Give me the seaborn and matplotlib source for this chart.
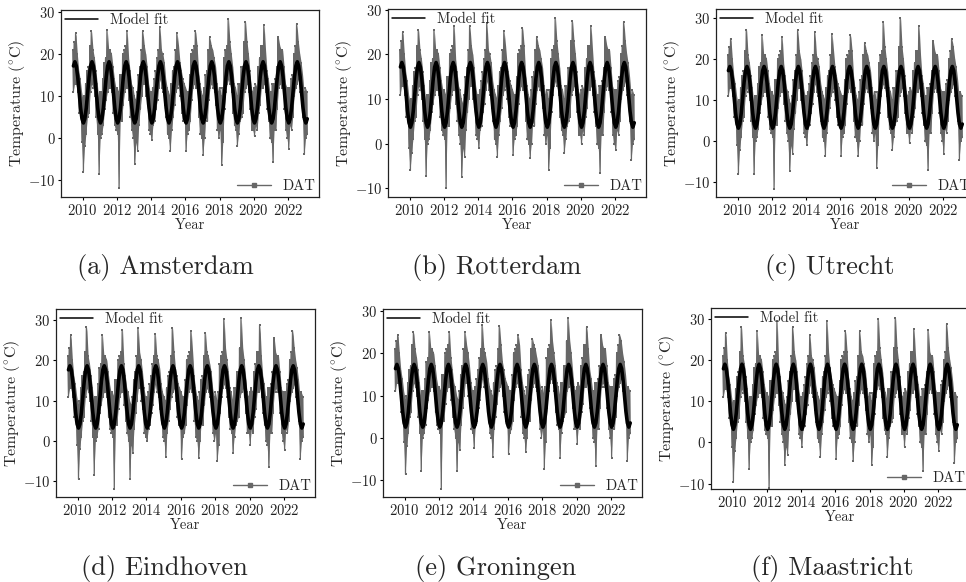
import numpy as np
import pandas as pd
import matplotlib
matplotlib.use("Agg")
import matplotlib.pyplot as plt
from matplotlib.lines import Line2D
import seaborn as sns

# --- DATA (deg C) ---
cities = ["Amsterdam", "Rotterdam", "Utrecht", "Eindhoven", "Groningen", "Maastricht"]
captions = ["(a) Amsterdam", "(b) Rotterdam", "(c) Utrecht",
            "(d) Eindhoven", "(e) Groningen", "(f) Maastricht"]

# monthly axis of the daily average temperature (DAT) record
months = pd.period_range("2009-06", "2023-02", freq="M")

# typical upper / lower edge of the DAT band per month (shared by the cities)
band_hi = [
    21, 23, 22, 20, 16, 14, 11,                      # 2009 Jun-Dec
    9, 10, 13, 16, 17, 22, 23, 21, 19, 16, 13, 9,     # 2010
    11, 11, 14, 18, 19, 21, 21, 21, 20, 17, 14, 12,   # 2011
    12, 11, 15, 15, 20, 21, 22, 23, 19, 16, 13, 12,   # 2012
    10, 9, 11, 15, 17, 21, 23, 22, 20, 17, 13, 11,    # 2013
    11, 12, 14, 16, 19, 21, 23, 21, 20, 18, 14, 12,   # 2014
    11, 10, 13, 16, 17, 21, 23, 22, 18, 16, 14, 13,   # 2015
    12, 11, 11, 15, 20, 21, 22, 22, 22, 16, 13, 11,   # 2016
    10, 12, 15, 16, 21, 23, 22, 21, 19, 17, 13, 11,   # 2017
    12, 10, 12, 19, 21, 22, 24, 23, 20, 17, 13, 12,   # 2018
    10, 13, 13, 17, 17, 23, 23, 23, 20, 16, 12, 11,   # 2019
    12, 13, 12, 17, 19, 22, 22, 24, 21, 16, 14, 11,   # 2020
    11, 13, 13, 14, 17, 22, 22, 21, 21, 17, 13, 12,   # 2021
    12, 12, 14, 15, 20, 22, 24, 23, 20, 18, 15, 11,   # 2022
    12, 11,                                          # 2023 Jan-Feb
]
band_lo = [
    11, 13, 13, 11, 6, 6, -1,
    -4, -2, 1, 5, 6, 11, 13, 12, 10, 5, 1, -4,
    0, 1, 3, 7, 9, 11, 12, 12, 11, 6, 3, 2,
    1, -6, 4, 4, 8, 11, 12, 12, 9, 5, 2, 0,
    -2, -1, -3, 3, 7, 10, 13, 13, 10, 8, 2, 1,
    2, 3, 4, 7, 9, 12, 14, 12, 11, 8, 5, 1,
    0, 0, 2, 5, 8, 11, 12, 13, 10, 6, 4, 5,
    1, 1, 2, 4, 9, 12, 13, 12, 12, 5, 1, 0,
    -2, 0, 5, 4, 9, 12, 13, 12, 11, 8, 2, 0,
    2, -2, -1, 7, 11, 13, 14, 13, 11, 6, 3, 2,
    -1, 1, 4, 5, 6, 11, 12, 13, 11, 7, 2, 2,
    2, 3, 2, 6, 8, 12, 12, 13, 11, 7, 4, 0,
    -1, -1, 2, 2, 7, 12, 13, 12, 12, 7, 2, 0,
    1, 3, 2, 5, 10, 12, 13, 14, 11, 9, 5, -1,
    0, 1,
]

# month of the summer heat peak and of the winter cold dip
peak_months = ["2009-08", "2010-07", "2011-06", "2012-08", "2013-07", "2014-07", "2015-07",
               "2016-08", "2017-06", "2018-07", "2019-07", "2020-08", "2021-06", "2022-07"]
dip_months = ["2010-01", "2010-12", "2012-02", "2013-01", "2014-01", "2015-02", "2016-01",
              "2017-01", "2018-02", "2019-01", "2020-01", "2021-02", "2022-01", "2022-12"]

summer_peak = {
    "Amsterdam":  [25.0, 25.5, 25.7, 25.5, 25.5, 26.5, 25.0, 25.5, 24.0, 28.5, 27.8, 27.0, 24.0, 27.3],
    "Rotterdam":  [25.0, 25.5, 25.5, 26.5, 26.5, 27.0, 25.2, 26.0, 24.0, 28.2, 27.5, 26.3, 24.0, 27.3],
    "Utrecht":    [25.0, 27.2, 25.8, 25.3, 27.0, 26.5, 26.0, 25.8, 24.0, 29.0, 30.0, 28.0, 24.3, 25.0],
    "Eindhoven":  [26.2, 28.2, 26.2, 27.5, 28.0, 26.5, 28.0, 27.3, 26.7, 30.2, 30.3, 28.7, 25.5, 27.3],
    "Groningen":  [24.5, 25.0, 25.0, 25.0, 25.0, 26.8, 26.5, 24.5, 23.5, 28.0, 28.4, 26.3, 24.5, 24.5],
    "Maastricht": [26.7, 28.0, 27.0, 29.5, 28.0, 26.2, 29.5, 27.0, 27.0, 30.0, 30.3, 27.5, 27.3, 28.8],
}
winter_dip = {
    "Amsterdam":  [-8.0, -8.5, -12.0, -6.3, -0.5, -3.0, -3.0, -4.0, -6.5, -2.0, 0.5, -5.8, -2.5, -3.8],
    "Rotterdam":  [-6.0, -7.3, -10.0, -7.5, -1.0, -3.0, -2.5, -3.2, -5.8, -2.0, 0.0, -6.5, -1.5, -3.7],
    "Utrecht":    [-8.0, -8.0, -11.5, -7.3, -1.0, -3.5, -3.5, -3.5, -6.5, -2.0, -0.5, -7.0, -3.0, -4.5],
    "Eindhoven":  [-9.5, -8.3, -12.0, -9.5, 0.0, -4.0, -4.5, -4.3, -5.0, -3.0, -1.0, -6.5, -2.3, -4.5],
    "Groningen":  [-8.7, -8.0, -12.3, -8.0, -2.5, -4.5, -4.0, -3.5, -7.5, -4.8, -1.5, -6.7, -4.8, -5.5],
    "Maastricht": [-9.5, -6.5, -11.0, -5.5, -1.0, -3.5, -4.0, -4.5, -5.5, -3.5, -1.0, -7.0, -2.0, -5.0],
}

# seasonal model fit, Jan..Dec
model_fit = {
    "Amsterdam":  [3.6, 4.6, 7.2, 10.9, 14.6, 17.2, 18.2, 17.2, 14.6, 10.9, 7.2, 4.6],
    "Rotterdam":  [3.7, 4.7, 7.3, 10.9, 14.6, 17.2, 18.2, 17.2, 14.6, 10.9, 7.3, 4.7],
    "Utrecht":    [3.2, 4.2, 6.9, 10.7, 14.5, 17.2, 18.2, 17.2, 14.5, 10.7, 6.9, 4.2],
    "Eindhoven":  [3.2, 4.2, 7.0, 10.9, 14.8, 17.6, 18.6, 17.6, 14.8, 10.9, 7.0, 4.2],
    "Groningen":  [2.5, 3.5, 6.2, 10.0, 13.7, 16.4, 17.4, 16.4, 13.7, 10.0, 6.2, 3.5],
    "Maastricht": [3.2, 4.3, 7.1, 11.1, 15.1, 17.9, 19.0, 17.9, 15.1, 11.1, 7.1, 4.3],
}

year_ticks = [2010, 2012, 2014, 2016, 2018, 2020, 2022]
temp_ticks = [-10, 0, 10, 20, 30]

# --- LAYOUT (pixels in a 966x582 canvas) ---
W, H = 966, 582
axes_px = [(61, 10, 319, 197), (388, 9, 646, 197), (716, 9, 974, 197),
           (56, 309, 315, 497), (383, 309, 642, 497), (711, 308, 969, 489)]
ylims = [(-14.06, 30.55), (-11.95, 30.2), (-13.55, 32.19),
         (-13.86, 32.65), (-14.1, 30.57), (-11.3, 32.66)]
caption_px = [(165, 268), (497, 268), (830, 268), (164, 568), (496, 568), (832, 568)]

DAT_GRAY = "#676767"


def city_frames(city):
    hi = pd.Series(band_hi, index=months, dtype=float)
    lo = pd.Series(band_lo, index=months, dtype=float)
    hi[pd.PeriodIndex(peak_months, freq="M")] = summer_peak[city]
    lo[pd.PeriodIndex(dip_months, freq="M")] = winter_dip[city]
    start = months.year + (months.month - 1) / 12
    band = pd.DataFrame({"Year": start + 0.25 / 12, "hi": hi.values, "lo": lo.values})
    dat = pd.DataFrame({
        "Year": np.concatenate([start, start + 0.5 / 12]),
        "Temperature": np.concatenate([hi.values, lo.values]),
    }).sort_values("Year")
    fit = pd.DataFrame({
        "Year": start + 0.5 / 12,
        "Temperature": [model_fit[city][m - 1] for m in months.month],
    })
    return band, dat, fit


def main():
    sns.set_style("ticks")
    plt.rcParams["font.family"] = ["cmr10", "DejaVu Serif"]
    plt.rcParams["mathtext.fontset"] = "cm"
    plt.rcParams["axes.formatter.use_mathtext"] = True
    plt.rcParams["axes.unicode_minus"] = True

    fig = plt.figure(figsize=(W / 100, H / 100), dpi=100)

    for i, city in enumerate(cities):
        l, t, r, b = axes_px[i]
        w_px, h_px = r - l, b - t
        ax = fig.add_axes([l / W, 1 - b / H, w_px / W, h_px / H])
        band, dat, fit = city_frames(city)

        # DAT: dense daily record -> gray band with its zig-zag trace on top
        ax.fill_between(band["Year"], band["lo"], band["hi"], color=DAT_GRAY, linewidth=0)
        sns.lineplot(data=dat, x="Year", y="Temperature", ax=ax, estimator=None,
                     color=DAT_GRAY, linewidth=0.9, marker="s", markersize=2.0,
                     markeredgewidth=0)
        sns.lineplot(data=fit, x="Year", y="Temperature", ax=ax, estimator=None,
                     color="black", linewidth=2.6)

        ax.set_ylim(*ylims[i])
        ax.set_xticks(year_ticks)
        ax.set_yticks(temp_ticks)
        ax.set_xlabel("Year", fontsize=10.5, labelpad=0.5)
        ax.set_ylabel(r"Temperature ($^{\circ}$C)", fontsize=11.5)
        ax.yaxis.set_label_coords(-34 / w_px, 0.5)
        ax.tick_params(axis="both", labelsize=10.5, length=2.5, width=0.8, pad=1.5,
                       colors="black", labelcolor="#222222")
        for sp in ax.spines.values():
            sp.set_color("#222222")
            sp.set_linewidth(0.9)

        fit_handle = Line2D([], [], color="black", linewidth=1.1)
        dat_handle = Line2D([], [], color=DAT_GRAY, linewidth=1.0, marker="s", markersize=3)
        leg_kw = dict(frameon=False, fontsize=10.5, borderaxespad=0.1, borderpad=0.15,
                      handlelength=2.3, handletextpad=0.8)
        leg1 = ax.legend([fit_handle], ["Model fit"], loc="upper left", **leg_kw)
        ax.add_artist(leg1)
        ax.legend([dat_handle], ["DAT"], loc="lower right", **leg_kw)

        cx, cy = caption_px[i]
        fig.text(cx / W, 1 - cy / H, captions[i], fontsize=19, ha="center", va="center")

    fig.savefig("out.png", dpi=100)


if __name__ == "__main__":
    main()
